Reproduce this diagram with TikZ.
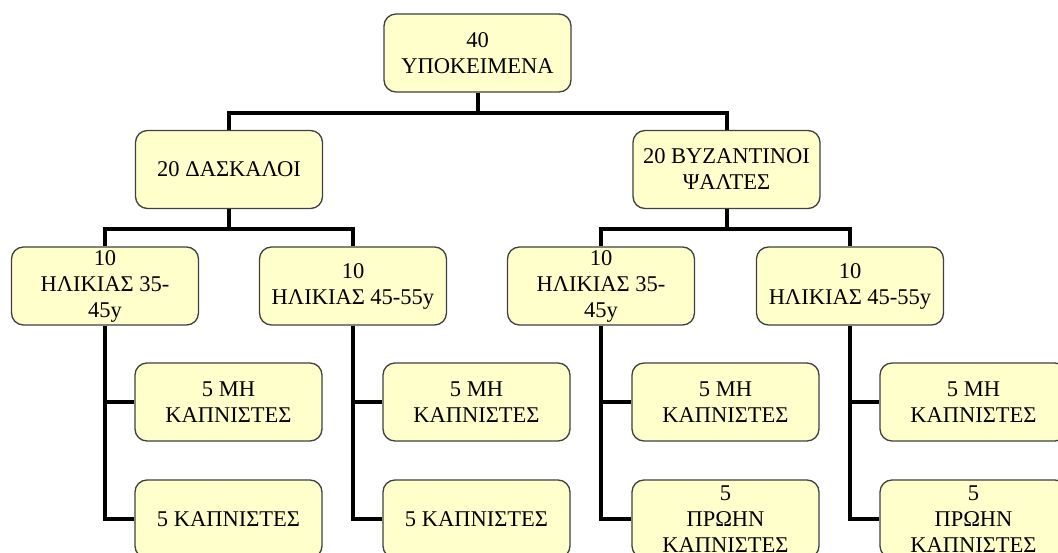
\documentclass[tikz,border=0pt]{standalone}
\usepackage{fontspec}
\setmainfont{Liberation Serif}
\definecolor{boxfill}{HTML}{FFFFCC}
\definecolor{boxline}{HTML}{404040}
\begin{document}
\begin{tikzpicture}[x=1pt,y=-1pt,
  box/.style={draw=boxline, line width=1.3pt, fill=boxfill, rounded corners=12pt,
    minimum width=187pt, minimum height=78pt, inner sep=0pt, align=center,
    font=\fontsize{22.5}{26}\selectfont},
  conn/.style={line width=4pt, draw=black}]
\fill[white] (0,0) rectangle (1058,553);
\useasboundingbox (0,0) rectangle (1058,553);

% level 1
\node[box] (root) at (477.5,53) {40\\ΥΠΟΚΕΙΜΕΝΑ};
% level 2
\node[box] (d) at (229,169.5) {20 ΔΑΣΚΑΛΟΙ};
\node[box] (p) at (726.5,169.5) {20 ΒΥΖΑΝΤΙΝΟΙ\\ΨΑΛΤΕΣ};
% level 3
\node[box] (d1) at (105,286) {10\\ΗΛΙΚΙΑΣ 35-\\45y};
\node[box] (d2) at (353,286) {10\\ΗΛΙΚΙΑΣ 45-55y};
\node[box] (p1) at (601,286) {10\\ΗΛΙΚΙΑΣ 35-\\45y};
\node[box] (p2) at (850,286) {10\\ΗΛΙΚΙΑΣ 45-55y};
% level 4
\node[box] (d1a) at (228.5,402) {5 ΜΗ\\ΚΑΠΝΙΣΤΕΣ};
\node[box] (d1b) at (228.5,519) {5 ΚΑΠΝΙΣΤΕΣ};
\node[box] (d2a) at (476.5,402) {5 ΜΗ\\ΚΑΠΝΙΣΤΕΣ};
\node[box] (d2b) at (476.5,519) {5 ΚΑΠΝΙΣΤΕΣ};
\node[box] (p1a) at (725.5,402) {5 ΜΗ\\ΚΑΠΝΙΣΤΕΣ};
\node[box] (p1b) at (725.5,519) {5\\ΠΡΩΗΝ\\ΚΑΠΝΙΣΤΕΣ};
\node[box] (p2a) at (973.5,402) {5 ΜΗ\\ΚΑΠΝΙΣΤΕΣ};
\node[box] (p2b) at (973.5,519) {5\\ΠΡΩΗΝ\\ΚΑΠΝΙΣΤΕΣ};

% connectors
\draw[conn] (root.south) -- ++(0,20) -| (d.north);
\draw[conn] (root.south) -- ++(0,20) -| (p.north);
\draw[conn] (d.south) -- ++(0,19.5) -| (d1.north);
\draw[conn] (d.south) -- ++(0,19.5) -| (d2.north);
\draw[conn] (p.south) -- ++(0,19.5) -| (p1.north);
\draw[conn] (p.south) -- ++(0,19.5) -| (p2.north);
\draw[conn] (d1.south) |- (d1a.west);
\draw[conn] (d1.south) |- (d1b.west);
\draw[conn] (d2.south) |- (d2a.west);
\draw[conn] (d2.south) |- (d2b.west);
\draw[conn] (p1.south) |- (p1a.west);
\draw[conn] (p1.south) |- (p1b.west);
\draw[conn] (p2.south) |- (p2a.west);
\draw[conn] (p2.south) |- (p2b.west);
\end{tikzpicture}
\end{document}
